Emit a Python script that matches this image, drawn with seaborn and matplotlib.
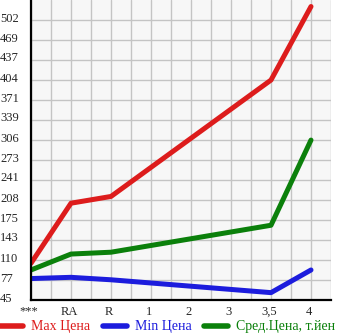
import numpy as np
import pandas as pd
import seaborn as sns
import matplotlib
matplotlib.use("Agg")
import matplotlib.pyplot as plt
import matplotlib.transforms as mtransforms
from matplotlib.ticker import MultipleLocator, FixedLocator
from matplotlib.lines import Line2D

categories = ["***", "RA", "R", "1", "2", "3", "3,5", "4"]
max_price = [105, 203, 214, None, None, None, 404, 524]
min_price = [80, 82, 78, None, None, None, 57, 94]
avg_price = [94, 120, 123, None, None, None, 167, 306]
y_ticks = [45, 77, 110, 143, 175, 208, 241, 273, 306, 339, 371, 404, 437, 469, 502]
series_names = ["Max Цена", "Min Цена", "Сред.Цена, т.йен"]
colors = ["#dd1c1c", "#1c1cdd", "#0b800b"]

rows = []
for name, vals in zip(series_names, [max_price, min_price, avg_price]):
    for i, v in enumerate(vals):
        if v is not None:
            rows.append({"pos": i, "value": v, "series": name})
df = pd.DataFrame(rows)

sns.set_style("white")
plt.rcParams['font.family'] = ['Liberation Serif', 'DejaVu Serif']

fig = plt.figure(figsize=(3.45, 3.35), dpi=100)
ax = fig.add_axes([31/345, 35/335, 300/345, 300/335])
ax.set_facecolor("#f7f7f7")

sns.lineplot(data=df, x="pos", y="value", hue="series", palette=colors,
             hue_order=series_names, linewidth=3.6, ax=ax, legend=False,
             solid_capstyle="round")

ax.set_xlim(0, 7.5)
ax.set_ylim(45, 45 + 15 * (502 - 45) / 14)
ax.xaxis.set_major_locator(FixedLocator(range(len(categories))))
ax.set_xticklabels(categories)
ax.xaxis.set_minor_locator(MultipleLocator(0.5))
ax.yaxis.set_major_locator(FixedLocator(y_ticks))
ax.set_yticklabels([str(t) for t in y_ticks])
ax.grid(True, which="both", color="#c4c4c4", linewidth=1)
ax.set_axisbelow(True)
ax.set_xlabel("")
ax.set_ylabel("")
ax.tick_params(axis="x", which="major", length=0, labelsize=9, pad=4)
ax.tick_params(axis="x", which="minor", length=4, width=1, color="black", direction="out")
ax.tick_params(axis="y", length=0, labelsize=9, pad=31 * 72 / 100)
offset = mtransforms.ScaledTranslation(0, 3 / 100, fig.dpi_scale_trans)
for lab in ax.get_yticklabels():
    lab.set_horizontalalignment("left")
    lab.set_transform(lab.get_transform() + offset)
for lab in ax.get_xticklabels():
    lab.set_transform(lab.get_transform() + mtransforms.ScaledTranslation(-2 / 100, 0, fig.dpi_scale_trans))
for side in ["top", "right"]:
    ax.spines[side].set_visible(False)
for side in ["left", "bottom"]:
    ax.spines[side].set_color("black")
    ax.spines[side].set_linewidth(1.6)

handles = [Line2D([0], [0], color=c, linewidth=4, solid_capstyle="round") for c in colors]
leg = fig.legend(handles, series_names, loc="lower center", bbox_to_anchor=(0.485, -0.02),
                 ncol=3, frameon=False, fontsize=10, handlelength=1.7,
                 handletextpad=0.6, columnspacing=0.9, borderaxespad=0.2)
for t, c in zip(leg.get_texts(), colors):
    t.set_color(c)

fig.savefig("out.png", dpi=100)
